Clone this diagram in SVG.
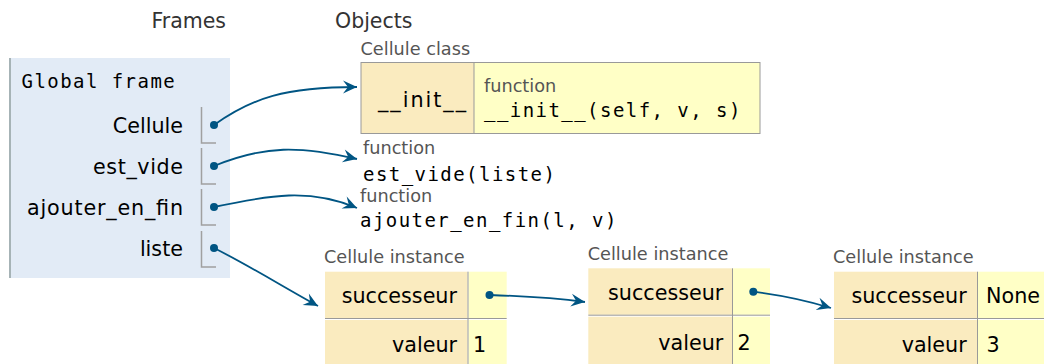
<svg xmlns="http://www.w3.org/2000/svg" width="1044" height="364" viewBox="0 0 1044 364">
<style>
.hdr{font-family:"DejaVu Sans",Verdana,sans-serif;font-size:20.5px;fill:#333}
.lbl{font-family:"DejaVu Sans",Verdana,sans-serif;font-size:20.7px;fill:#000}
.typ{font-family:"DejaVu Sans",Verdana,sans-serif;font-size:17.7px;fill:#555}
.mono{font-family:"DejaVu Sans Mono","Liberation Mono",monospace;font-size:19px;letter-spacing:1.45px;fill:#000}
.key{fill:#faebbf}
.val{fill:#ffffc6}
.bd{stroke:#999;stroke-width:1;fill:none}
.brk{stroke:#a0a0a0;stroke-width:1.5;fill:none}
.dot{fill:#005583}
.con{stroke:#005583;stroke-width:1.8;fill:none;marker-end:url(#ah)}
</style>
<defs>
<marker id="ah" viewBox="-15 -7 16 14" refX="0" refY="0" markerWidth="16" markerHeight="14" markerUnits="userSpaceOnUse" orient="auto">
<path d="M0,0 L-14,-6.5 L-9,0 L-14,6.5 Z" fill="#005583"/>
</marker>
</defs>
<rect width="1044" height="364" fill="#fff"/>
<text class="hdr" x="151.5" y="28">Frames</text>
<text class="hdr" x="335" y="28">Objects</text>

<g id="global-frame">
<rect x="9" y="58" width="221" height="220" fill="#e2ebf6"/>
<line x1="10" y1="58" x2="10" y2="278" stroke="#a6b3b6" stroke-width="2"/>
<text class="mono" x="21.5" y="88">Global frame</text>
<text class="lbl" x="183" y="133" text-anchor="end">Cellule</text>
<path class="brk" d="M201.5,107 V143 H216"/>
<circle class="dot" cx="214" cy="125" r="4"/>
<text class="lbl" x="183" y="174" text-anchor="end" textLength="90" lengthAdjust="spacing">est_vide</text>
<path class="brk" d="M201.5,148 V184 H216"/>
<circle class="dot" cx="214" cy="166" r="4"/>
<text class="lbl" x="183" y="215" text-anchor="end" textLength="156" lengthAdjust="spacing">ajouter_en_fin</text>
<path class="brk" d="M201.5,189 V225 H216"/>
<circle class="dot" cx="214" cy="207" r="4"/>
<text class="lbl" x="183" y="256" text-anchor="end">liste</text>
<path class="brk" d="M201.5,231 V267 H216"/>
<circle class="dot" cx="214" cy="248" r="4"/>
</g>

<g id="cellule-class">
<text class="typ" x="360.5" y="55">Cellule class</text>
<rect class="key" x="361" y="62.5" width="113" height="71"/>
<rect class="val" x="474" y="62.5" width="286" height="71"/>
<rect class="bd" x="361" y="62.5" width="399" height="71"/>
<line class="bd" x1="474" y1="62.5" x2="474" y2="133.5"/>
<text class="lbl" x="422" y="107" text-anchor="middle" textLength="88" lengthAdjust="spacing">__init__</text>
<text class="typ" x="484" y="91.7">function</text>
<text class="mono" x="484" y="117.3">__init__(self, v, s)</text>
</g>

<g id="est-vide-function">
<text class="typ" x="363" y="154">function</text>
<text class="mono" x="363" y="180.7">est_vide(liste)</text>
</g>

<g id="ajouter-en-fin-function">
<text class="typ" x="360" y="201.7">function</text>
<text class="mono" x="360" y="226.5">ajouter_en_fin(l, v)</text>
</g>

<g id="instance-1">
<text class="typ" x="324" y="263">Cellule instance</text>
<rect class="key" x="325" y="271.7" width="142.5" height="46.5"/>
<rect class="val" x="468.5" y="271.7" width="38.2" height="46.5"/>
<rect class="key" x="325" y="320" width="142.5" height="46"/>
<rect class="val" x="468.5" y="320" width="38.2" height="46"/>
<line class="bd" x1="325" y1="318.5" x2="506.7" y2="318.5"/>
<line class="bd" x1="468" y1="271.7" x2="468" y2="364"/>
<text class="lbl" x="457" y="303.3" text-anchor="end">successeur</text>
<circle class="dot" cx="489.5" cy="295" r="4"/>
<text class="lbl" x="457" y="351.7" text-anchor="end">valeur</text>
<text class="lbl" x="473" y="351.7">1</text>
</g>

<g id="instance-2">
<text class="typ" x="587.7" y="260">Cellule instance</text>
<rect class="key" x="588.3" y="268.3" width="143.7" height="46.5"/>
<rect class="val" x="733" y="268.3" width="37" height="46.5"/>
<rect class="key" x="588.3" y="316.7" width="143.7" height="50"/>
<rect class="val" x="733" y="316.7" width="37" height="50"/>
<line class="bd" x1="588.3" y1="315.2" x2="770" y2="315.2"/>
<line class="bd" x1="732.5" y1="268.3" x2="732.5" y2="364"/>
<text class="lbl" x="723.3" y="300" text-anchor="end">successeur</text>
<circle class="dot" cx="753.3" cy="291.7" r="4"/>
<text class="lbl" x="723.3" y="350" text-anchor="end">valeur</text>
<text class="lbl" x="737.5" y="350">2</text>
</g>

<g id="instance-3">
<text class="typ" x="833" y="263">Cellule instance</text>
<rect class="key" x="834" y="271.7" width="143" height="46.5"/>
<rect class="val" x="978" y="271.7" width="66" height="46.5"/>
<rect class="key" x="834" y="320" width="143" height="46"/>
<rect class="val" x="978" y="320" width="66" height="46"/>
<line class="bd" x1="834" y1="318.5" x2="1044" y2="318.5"/>
<line class="bd" x1="977.5" y1="271.7" x2="977.5" y2="364"/>
<text class="lbl" x="966.7" y="303.3" text-anchor="end">successeur</text>
<text class="lbl" x="986" y="303.3">None</text>
<text class="lbl" x="966.7" y="351.7" text-anchor="end">valeur</text>
<text class="lbl" x="986.5" y="351.7">3</text>
</g>

<g id="connectors">
<path class="con" d="M214,125 C252,98 285,87 357,87"/>
<path class="con" d="M214,166 C265,145 300,146 357,159"/>
<path class="con" d="M214,207 C270,195 310,188 357,208"/>
<path class="con" d="M214,248 C250,266 285,288 318,306"/>
<path class="con" d="M489.5,295 C520,296 555,298 585,302"/>
<path class="con" d="M753.3,291.7 C780,295 805,300 831,308"/>
</g>
</svg>
